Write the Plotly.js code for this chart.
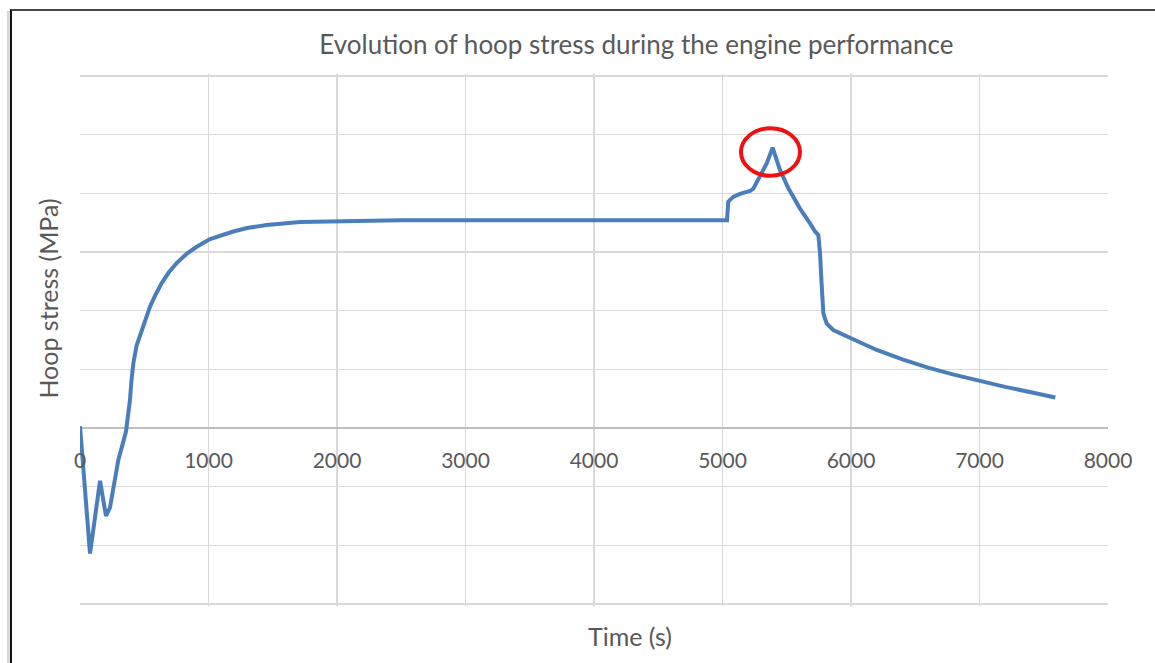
<!DOCTYPE html>
<html>
<head>
<meta charset="utf-8">
<script src="https://cdn.plot.ly/plotly-3.0.1.min.js"></script>
<style>
html,body{margin:0;padding:0;background:#fff;}
#wrap{position:relative;width:1155px;height:663px;overflow:hidden;}
#chart{position:absolute;left:0;top:0;width:1155px;height:663px;}
#frame{position:absolute;left:10px;top:9px;width:1200px;height:700px;border-top:2px solid #474747;border-left:2px solid #111;pointer-events:none;}
#strip{position:absolute;left:7px;top:11px;width:3px;height:700px;background:#d9d9d9;pointer-events:none;}
</style>
</head>
<body>
<div id="wrap">
<div id="chart"></div>
<div id="strip"></div>
<div id="frame"></div>
</div>
<script>
const timeS = [0, 78, 156, 202, 233, 298, 358, 376, 389, 400, 415, 440, 480, 545, 590, 636, 690, 752, 830, 908, 1012, 1100, 1193, 1300, 1453, 1712, 2101, 2500, 3500, 4500, 5035,
  5045, 5084, 5136, 5214, 5240, 5279, 5344, 5390, 5447, 5512, 5603, 5681, 5720, 5746, 5759, 5771, 5785, 5811, 5862, 6000, 6200, 6400, 6600, 6800, 7000, 7200, 7400, 7590];
const hoopStress = [0.03, -2.14, -0.90, -1.50, -1.36, -0.55, -0.06, 0.25, 0.48, 0.80, 1.10, 1.40, 1.67, 2.07, 2.28, 2.47, 2.65, 2.81, 2.97, 3.09, 3.22, 3.29, 3.35, 3.41, 3.46, 3.51, 3.53, 3.54, 3.54, 3.54, 3.54,
  3.86, 3.94, 3.99, 4.04, 4.08, 4.23, 4.51, 4.78, 4.40, 4.09, 3.74, 3.49, 3.35, 3.29, 2.98, 2.47, 1.95, 1.78, 1.67, 1.53, 1.33, 1.17, 1.03, 0.91, 0.80, 0.70, 0.61, 0.52];
const xTicks = [0, 1000, 2000, 3000, 4000, 5000, 6000, 7000, 8000];
const xTickLabels = ['0', '1000', '2000', '3000', '4000', '5000', '6000', '7000', '8000'];
const chartTitle = 'Evolution of hoop stress during the engine performance';
const xTitle = 'Time (s)';
const yTitle = 'Hoop stress (MPa)';

const fontFam = 'Lato, "Open Sans", sans-serif';
const data = [{
  x: timeS, y: hoopStress, type: 'scatter', mode: 'lines',
  line: {color: '#4a7ebb', width: 4, shape: 'linear'},
  hoverinfo: 'skip'
}];
const layout = {
  width: 1155, height: 663,
  margin: {l: 80, r: 47, t: 74, b: 57},
  paper_bgcolor: '#ffffff', plot_bgcolor: '#ffffff',
  showlegend: false,
  font: {family: fontFam, color: '#595959'},
  title: {text: chartTitle, font: {size: 26, color: '#595959', family: fontFam}, x: 0.551, xanchor: 'center', y: 0.933, yanchor: 'middle'},
  xaxis: {
    range: [0, 8000], tickvals: xTicks, ticktext: xTickLabels,
    showgrid: true, gridcolor: '#d9d9d9', gridwidth: 1.5,
    zeroline: false, showline: false, ticks: '',
    anchor: 'free', position: 1/3,
    ticklabelstandoff: 17,
    tickfont: {size: 21, color: '#595959', family: fontFam},
    fixedrange: true
  },
  yaxis: {
    range: [-3.035, 6.035], dtick: 1, tick0: 0,
    showticklabels: false, ticks: '',
    showgrid: true, gridcolor: '#d9d9d9', gridwidth: 1.5,
    zeroline: true, zerolinecolor: '#bfbfbf', zerolinewidth: 2.5,
    showline: false, fixedrange: true
  },
  annotations: [
    {text: xTitle, xref: 'paper', yref: 'paper', x: 0.535, y: -0.056, xanchor: 'center', yanchor: 'middle', showarrow: false, font: {size: 25, color: '#595959', family: fontFam}},
    {text: yTitle, xref: 'paper', yref: 'paper', x: -0.032, y: 0.578, xanchor: 'center', yanchor: 'middle', textangle: -90, showarrow: false, font: {size: 25, color: '#595959', family: fontFam}}
  ],
  shapes: [
    {type: 'circle', xref: 'x', yref: 'y', x0: 5144, x1: 5603, y0: 4.30, y1: 5.11, line: {color: '#ee1111', width: 4}, layer: 'above'}
  ]
};
Plotly.newPlot('chart', data, layout, {staticPlot: true, displayModeBar: false});
</script>
</body>
</html>
